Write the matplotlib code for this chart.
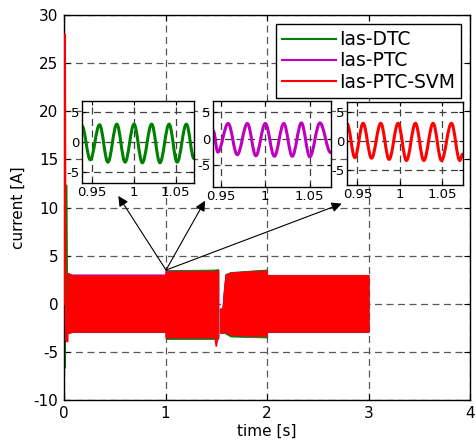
import matplotlib
matplotlib.use("Agg")
import matplotlib.pyplot as plt
from matplotlib.lines import Line2D
from matplotlib.path import Path
from matplotlib.patches import PathPatch

plt.rcParams["font.family"] = ["DejaVu Sans"]
plt.rcParams["axes.unicode_minus"] = False

# ---- main plot data (envelopes of the fast switching current) ----
series_labels = ["Ias-DTC", "Ias-PTC", "Ias-PTC-SVM"]
series_colors = ["#008000", "#bf00bf", "#ff0000"]

# start-up transients
green_start_t = [0.0, 0.008, 0.014, 0.026, 0.034, 0.045]
green_start_v = [0.0, -6.7, -2.0, 12.3, -3.0, 3.0]
red_start_t = [0.004, 0.01, 0.016, 0.022, 0.035, 0.04, 0.045]
red_start_v = [0.0, 28.0, -1.5, -3.9, -3.9, 3.1, -3.0]

# first block (0.05 .. 1.52 s)
green_a_t = [0.045, 0.055, 0.08, 0.999, 1.001, 1.48, 1.52]
green_a_hi = [3.2, 3.1, 3.0, 3.0, 3.5, 3.55, 3.6]
green_a_lo = [-3.0, -3.0, -2.95, -2.95, -3.65, -3.65, -3.65]
magenta_a_t = [0.045, 0.055, 0.08, 0.999, 1.001, 1.48, 1.52]
magenta_a_hi = [3.2, 3.1, 3.05, 3.05, 3.4, 3.4, 3.4]
magenta_a_lo = [-3.0, -3.0, -2.9, -2.9, -3.5, -3.5, -3.5]
red_a_t = [0.045, 0.055, 0.08, 0.999, 1.001, 1.48, 1.52]
red_a_hi = [3.2, 3.1, 2.95, 2.95, 3.35, 3.4, 3.5]
red_a_lo = [-3.0, -3.0, -2.9, -2.9, -3.5, -3.5, -3.5]
red_dip_t = [1.488, 1.50, 1.515]
red_dip_v = [-3.5, -4.4, -3.5]

# second block (1.53 .. 3.0 s)
green_b_t = [1.535, 1.56, 1.575, 1.59, 1.64, 1.98, 1.999, 2.001, 3.0]
green_b_hi = [-0.5, -0.5, 1.5, 3.1, 3.3, 3.55, 3.55, 3.0, 3.0]
green_b_lo = [-3.0, -3.0, -3.0, -3.1, -3.4, -3.5, -3.5, -2.95, -2.95]
magenta_b_t = [1.535, 1.56, 1.575, 1.59, 1.64, 1.98, 1.999, 2.001, 3.0]
magenta_b_hi = [-0.5, -0.5, 1.5, 3.0, 3.25, 3.45, 3.45, 3.0, 3.0]
magenta_b_lo = [-3.0, -3.0, -3.0, -2.9, -3.25, -3.35, -3.35, -2.9, -2.9]
red_b_t = [1.535, 1.56, 1.575, 1.59, 1.64, 1.98, 1.999, 2.001, 3.0]
red_b_hi = [-0.5, -0.5, 1.5, 3.0, 3.25, 3.45, 3.45, 3.0, 3.0]
red_b_lo = [-3.0, -3.0, -3.0, -2.9, -3.25, -3.35, -3.35, -2.9, -2.9]

# ---- zoom insets around t = 1 s (peaks and troughs) ----
inset_green_t = [0.9377, 0.9476, 0.9587, 0.9687, 0.9794, 0.9893, 1.0, 1.0099,
                 1.0211, 1.031, 1.042, 1.0516, 1.0627, 1.0718]
inset_green_v = [2.7, -3.0, 2.9, -3.4, 3.0, -3.4, 3.0, -3.5, 3.0, -3.5, 3.0,
                 -3.4, 3.0, -2.8]
inset_magenta_t = [0.9416, 0.9466, 0.9583, 0.9685, 0.9799, 0.9894, 1.0, 1.0102,
                   1.0208, 1.0303, 1.0406, 1.05, 1.0614, 1.0735]
inset_magenta_v = [1.5, -2.5, 2.9, -3.0, 2.9, -3.2, 2.9, -3.3, 2.9, -3.3, 3.0,
                   -3.4, 3.0, -2.6]
inset_red_t = [0.938, 0.9471, 0.9568, 0.9667, 0.9776, 0.9874, 0.998, 1.0078,
               1.0184, 1.0282, 1.0392, 1.049, 1.0608, 1.0706, 1.074]
inset_red_v = [2.9, -2.9, 3.0, -3.0, 3.0, -3.2, 3.0, -3.4, 3.0, -3.4, 3.0,
               -3.4, 3.0, -3.4, -2.3]

inset_xticks = [0.95, 1.0, 1.05]
inset_xticklabels = ["0.95", "1", "1.05"]
inset_yticks = [-5, 0, 5]

arrow_origin = (1.005, 3.5)
arrow_targets = [(0.535, 11.2), (1.389, 10.7), (2.736, 10.4)]

GRID = dict(color="0.35", linestyle=(0, (5.6, 3.6)), linewidth=0.9)


def smooth_path(t, v):
    # cubic bezier through the extrema, flat tangent at each peak / trough
    verts = [(t[0], v[0])]
    codes = [Path.MOVETO]
    for i in range(1, len(t)):
        dt = t[i] - t[i - 1]
        verts += [(t[i - 1] + 0.36 * dt, v[i - 1]), (t[i] - 0.36 * dt, v[i]), (t[i], v[i])]
        codes += [Path.CURVE4] * 3
    return Path(verts, codes)


fig = plt.figure(figsize=(4.77, 4.44), dpi=100)
ax = fig.add_axes([0.1342, 0.0991, 0.8512, 0.8671])

g, m, r = series_colors
ax.fill_between(green_a_t, green_a_lo, green_a_hi, color=g, lw=0.6)
ax.fill_between(green_b_t, green_b_lo, green_b_hi, color=g, lw=0.6)
ax.plot(green_start_t, green_start_v, color=g, lw=1.2)
ax.fill_between(magenta_a_t, magenta_a_lo, magenta_a_hi, color=m, lw=0.6)
ax.fill_between(magenta_b_t, magenta_b_lo, magenta_b_hi, color=m, lw=0.6)
ax.fill_between(red_a_t, red_a_lo, red_a_hi, color=r, lw=0.6)
ax.fill_between(red_b_t, red_b_lo, red_b_hi, color=r, lw=0.6)
ax.plot(red_dip_t, red_dip_v, color=r, lw=1.2)
ax.plot(red_start_t, red_start_v, color=r, lw=1.4, zorder=3)

ax.set_xlim(0, 4)
ax.set_ylim(-10, 30)
ax.set_xticks(range(0, 5))
ax.set_yticks(range(-10, 31, 5))
ax.grid(True, **GRID)
ax.set_axisbelow(True)
ax.tick_params(direction="in", top=True, right=True, labelsize=11, pad=4, length=4)
for s in ax.spines.values():
    s.set_linewidth(1.0)
ax.set_xlabel("time [s]", fontsize=11, labelpad=2)
ax.set_ylabel("current [A]", fontsize=11, labelpad=6)

for tgt in arrow_targets:
    ax.annotate("", xy=tgt, xytext=arrow_origin,
                arrowprops=dict(arrowstyle="-|>", color="k", lw=0.8,
                                mutation_scale=15, shrinkA=0, shrinkB=0))

handles = [Line2D([], [], color=c, lw=1.5) for c in series_colors]
leg = ax.legend(handles, series_labels, loc="upper right", bbox_to_anchor=(0.978, 0.976),
                borderaxespad=0, fontsize=13.5, handlelength=2.9, handletextpad=0.15,
                labelspacing=0.12, borderpad=0.32, fancybox=False, framealpha=1)
leg.get_frame().set_edgecolor("k")
leg.get_frame().set_linewidth(1.0)

insets = [
    ([0.1719, 0.5872, 0.2348, 0.1854], inset_green_t, inset_green_v, g, (0.9377, 1.0718), (-6.95, 6.9)),
    ([0.4472, 0.5788, 0.2461, 0.1944], inset_magenta_t, inset_magenta_v, m, (0.9416, 1.0735), (-9.1, 7.2)),
    ([0.7281, 0.5833, 0.2419, 0.1876], inset_red_t, inset_red_v, r, (0.9382, 1.074), (-7.6, 6.7)),
]
for rect, t, v, c, xl, yl in insets:
    ia = fig.add_axes(rect)
    ia.add_patch(PathPatch(smooth_path(t, v), facecolor="none", edgecolor=c,
                           lw=2.2, joinstyle="round", capstyle="round"))
    ia.set_xlim(*xl)
    ia.set_ylim(*yl)
    ia.set_xticks(inset_xticks)
    ia.set_xticklabels(inset_xticklabels)
    ia.set_yticks(inset_yticks)
    ia.grid(True, color="0.25", linestyle=(0, (5.6, 3.6)), linewidth=0.9)
    ia.set_axisbelow(True)
    ia.tick_params(direction="in", top=True, right=True, labelsize=9.5, pad=2, length=3)
    for s in ia.spines.values():
        s.set_linewidth(1.0)

fig.savefig("out.png", dpi=100)
